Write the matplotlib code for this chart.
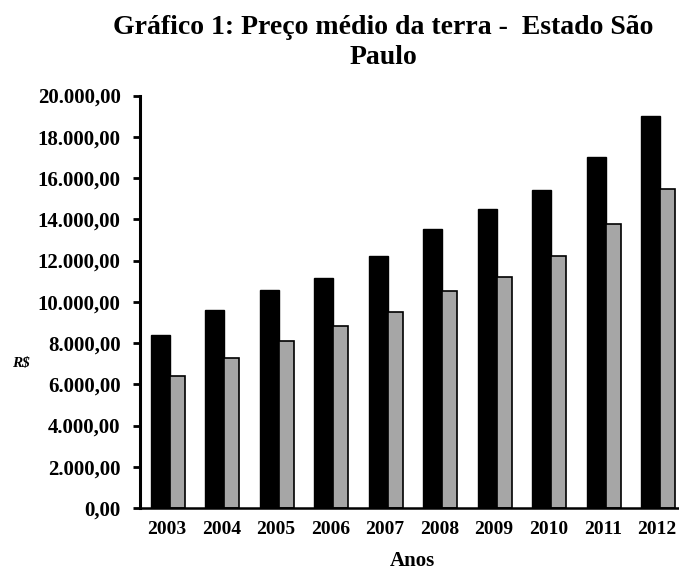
import numpy as np
import matplotlib
matplotlib.use("Agg")
import matplotlib.pyplot as plt
from matplotlib.ticker import FuncFormatter

# Values (R$)
years = ["2003", "2004", "2005", "2006", "2007", "2008", "2009", "2010", "2011", "2012"]
serie_preta = [8390, 9600, 10550, 11150, 12240, 13530, 14490, 15440, 17040, 19030]
serie_cinza = [6400, 7280, 8100, 8810, 9520, 10530, 11190, 12210, 13750, 15490]
y_ticks = [0, 2000, 4000, 6000, 8000, 10000, 12000, 14000, 16000, 18000, 20000]

FONT = "Liberation Serif"


def br_fmt(v, _pos):
    # 20000 -> "20.000,00"
    s = f"{v:,.2f}"
    return s.replace(",", "X").replace(".", ",").replace("X", ".")


fig = plt.figure(figsize=(6.79, 5.73), dpi=100)
ax = fig.add_axes([0.2062, 0.1134, 0.7938, 0.7199])

x = np.arange(len(years))
w1, w2 = 0.35, 0.275
ax.bar(x - w1 / 2, serie_preta, w1, color="black", edgecolor="black", linewidth=1)
ax.bar(x + w2 / 2, serie_cinza, w2, color="#a6a6a6", edgecolor="black", linewidth=1.2)

ax.set_xlim(-0.55, 9.34)
ax.set_ylim(0, 20000)
ax.set_yticks(y_ticks)
ax.yaxis.set_major_formatter(FuncFormatter(br_fmt))
# labels sit a hair left of the black/grey boundary, as in the original
ax.set_xticks(x - 0.06)
ax.set_xticklabels(years)

for side in ("top", "right"):
    ax.spines[side].set_visible(False)
ax.spines["left"].set_linewidth(2.2)
ax.spines["bottom"].set_linewidth(1.8)

ax.tick_params(axis="y", direction="out", length=5, width=2, pad=9)
ax.tick_params(axis="x", length=0, pad=9)
for lab in ax.get_yticklabels():
    lab.set_fontfamily(FONT); lab.set_fontweight("bold"); lab.set_fontsize(15)
for lab in ax.get_xticklabels():
    lab.set_fontfamily(FONT); lab.set_fontweight("bold"); lab.set_fontsize(14)

fig.text(0.565, 0.9407, "Gráfico 1: Preço médio da terra -  Estado São",
         ha="center", va="baseline", fontsize=20, fontweight="bold", family=FONT)
fig.text(0.565, 0.8883, "Paulo", ha="center", va="baseline", fontsize=20,
         fontweight="bold", family=FONT)
fig.text(0.607, 0.012, "Anos", ha="center", va="baseline", fontsize=15,
         fontweight="bold", family=FONT)
fig.text(0.031, 0.368, "R$", ha="center", va="center", fontsize=11,
         fontweight="bold", style="italic", family=FONT)

fig.savefig("out.png", dpi=100)
